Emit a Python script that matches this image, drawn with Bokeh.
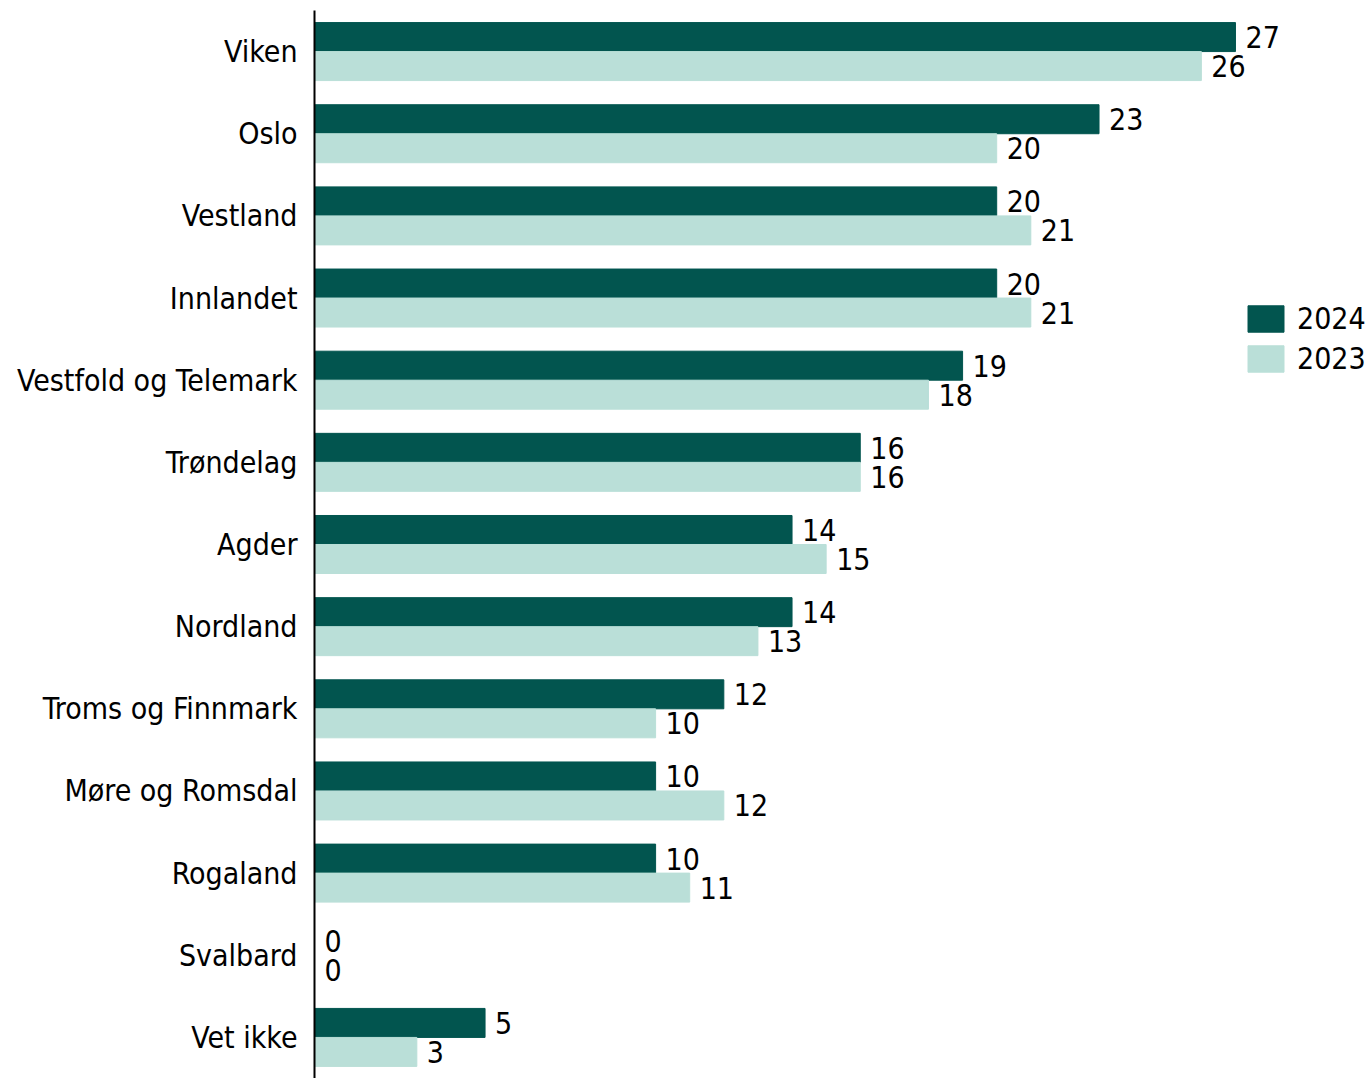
from bokeh.plotting import figure
from bokeh.models import ColumnDataSource, Range1d, FactorRange, Legend, LegendItem, LabelSet
from bokeh.transform import dodge
from bokeh.core.properties import value
from bokeh.embed import file_html
from bokeh.resources import INLINE

categories = ["Viken", "Oslo", "Vestland", "Innlandet", "Vestfold og Telemark", "Trøndelag",
              "Agder", "Nordland", "Troms og Finnmark", "Møre og Romsdal", "Rogaland",
              "Svalbard", "Vet ikke"]
values_2024 = [27, 23, 20, 20, 19, 16, 14, 14, 12, 10, 10, 0, 5]
values_2023 = [26, 20, 21, 21, 18, 16, 15, 13, 10, 12, 11, 0, 3]
series_names = ["2024", "2023"]

FONT = "DejaVu Sans Condensed"
FS = "30px"
DARK = "#02554F"
LIGHT = "#BADFD8"

src = ColumnDataSource(dict(cat=categories, v24=values_2024, v23=values_2023,
                            t24=[str(v) for v in values_2024], t23=[str(v) for v in values_2023]))

p = figure(width=1371, height=1078, output_backend="svg", toolbar_location=None,
           y_range=FactorRange(factors=list(reversed(categories)), range_padding=0),
           x_range=Range1d(0, 1057 / 34.11),
           min_border_left=314, min_border_right=0, min_border_top=10, min_border_bottom=0)
p.outline_line_color = None
p.xgrid.visible = False
p.ygrid.visible = False
p.xaxis.visible = False

bw = 0.353
r24 = p.hbar(y=dodge("cat", bw / 2, range=p.y_range), right="v24", left=0, height=bw,
             color=DARK, source=src)
r23 = p.hbar(y=dodge("cat", -bw / 2, range=p.y_range), right="v23", left=0, height=bw,
             color=LIGHT, source=src)

for col, off, txt in (("v24", bw / 2, "t24"), ("v23", -bw / 2, "t23")):
    lbl = LabelSet(x=col, y=dodge("cat", off, range=p.y_range), text=txt, source=src,
                   x_offset=10, text_baseline="middle", text_align="left",
                   text_font=value(FONT), text_font_size=FS, text_color="#000000")
    p.add_layout(lbl)

ax = p.yaxis[0]
ax.axis_line_color = "#000000"
ax.axis_line_width = 2
ax.major_tick_line_color = None
ax.minor_tick_line_color = None
ax.major_tick_out = 0
ax.major_label_standoff = 17
ax.major_label_text_font = FONT
ax.major_label_text_font_size = FS
ax.major_label_text_color = "#000000"

legend = Legend(items=[LegendItem(label=series_names[0], renderers=[r24]),
                       LegendItem(label=series_names[1], renderers=[r23])],
                location=(929, 702), glyph_width=45, glyph_height=33, label_standoff=9,
                label_text_font=FONT, label_text_font_size=FS, label_height=33,
                label_text_color="#000000",
                spacing=5, padding=0, margin=0, border_line_color=None,
                background_fill_alpha=0)
p.add_layout(legend, "center")

open("out.html", "w").write(file_html(p, INLINE))
